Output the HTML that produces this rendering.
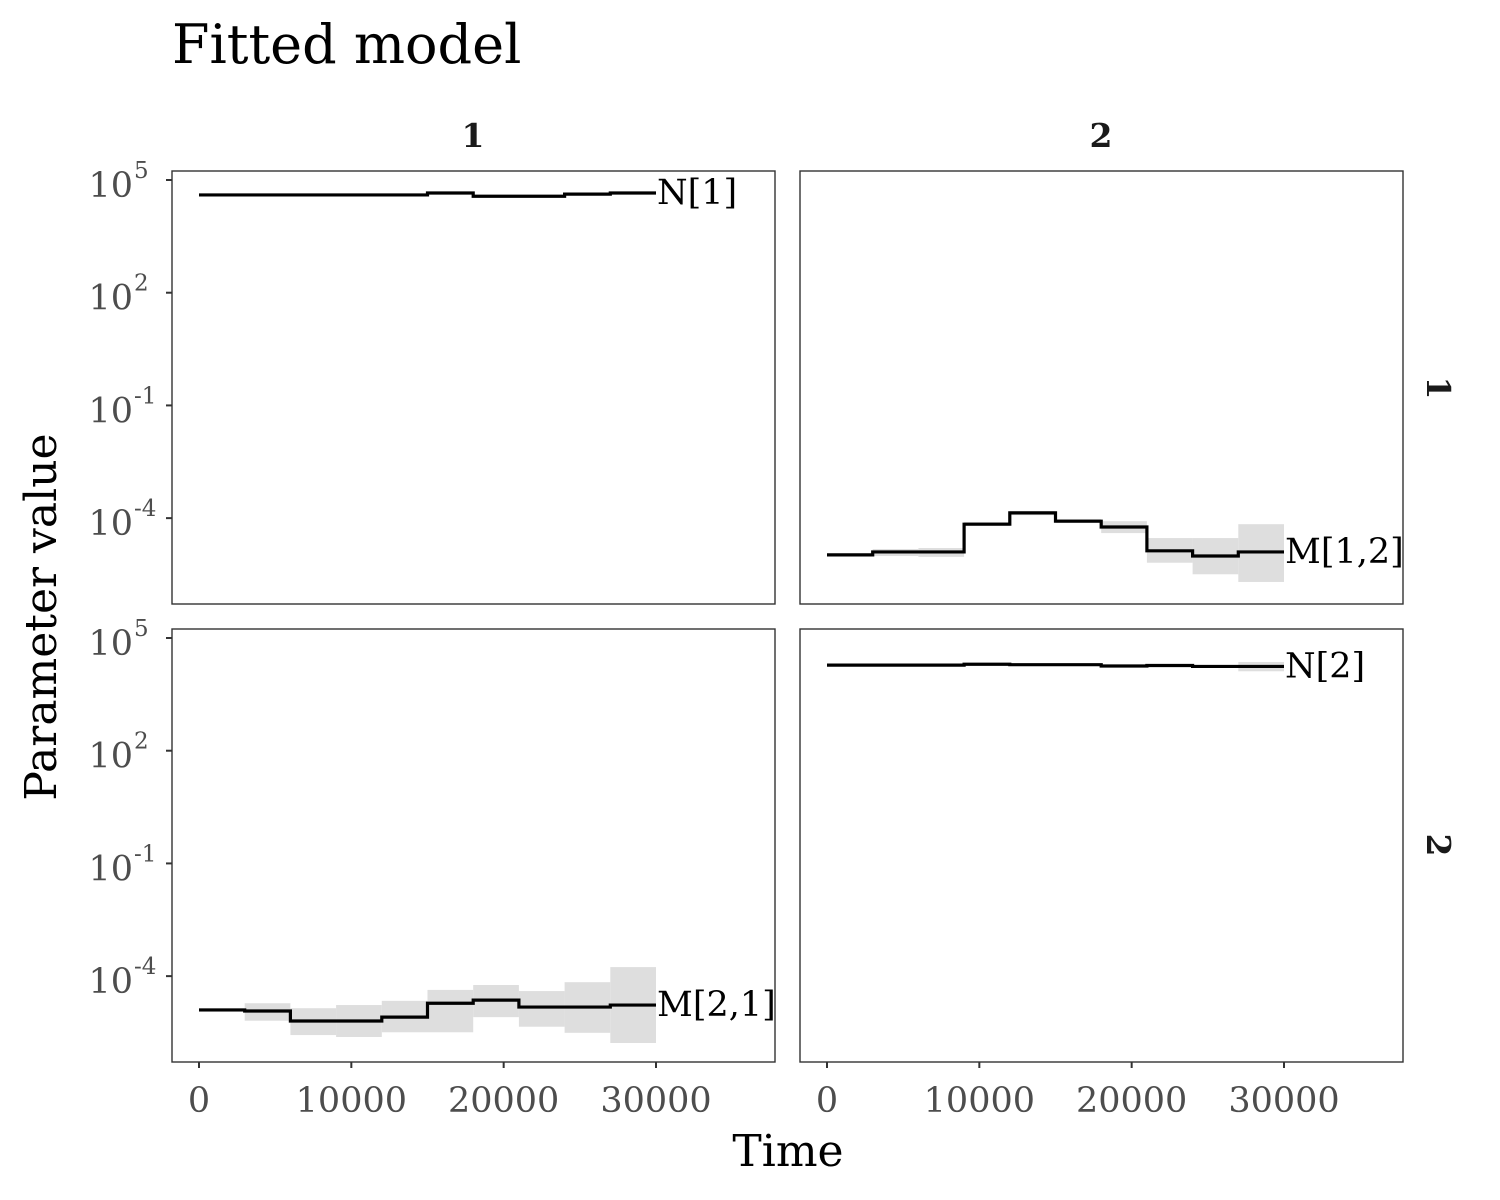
<!DOCTYPE html>
<html><head><meta charset="utf-8"><style>
body{margin:0;background:#fff}
svg{display:block;font-family:"DejaVu Serif","Liberation Serif",serif}
</style></head><body>
<svg id="chart" width="1500" height="1200" viewBox="0 0 1500 1200">
<text x="172" y="63" font-size="54" fill="#000">Fitted model</text>
<text x="788" y="1166" font-size="44" text-anchor="middle">Time</text>
<text transform="translate(56,617) rotate(-90)" font-size="44" text-anchor="middle">Parameter value</text>
<g id="plots"></g>
</svg>
<script>
const stepStarts = [0,3000,6000,9000,12000,15000,18000,21000,24000,27000];
const stepEnd = 30000;
const xTicks = [0,10000,20000,30000];
const yTickExps = [5,2,-1,-4];
const n1Line = [40000,40000,40000,40000,40000,45000,37000,37000,42000,45000];
const m12Line = [1.05e-5,1.26e-5,1.26e-5,6.9e-5,1.38e-4,8.3e-5,5.8e-5,1.35e-5,9.8e-6,1.26e-5];
const m12Hi = [1.15e-5,1.5e-5,1.6e-5,7.9e-5,1.55e-4,9.5e-5,8.3e-5,2.95e-5,2.95e-5,6.9e-5];
const m12Lo = [9.5e-6,9.8e-6,9.3e-6,6.2e-5,1.2e-4,7.4e-5,4.0e-5,6.5e-6,3.2e-6,2.0e-6];
const m21Line = [1.26e-5,1.18e-5,6.4e-6,6.4e-6,8.1e-6,1.9e-5,2.3e-5,1.5e-5,1.5e-5,1.7e-5];
const m21Hi = [1.4e-5,1.9e-5,1.4e-5,1.7e-5,2.2e-5,4.3e-5,5.8e-5,4.0e-5,6.9e-5,1.74e-4];
const m21Lo = [1.12e-5,6.5e-6,2.7e-6,2.4e-6,3.2e-6,3.2e-6,8.1e-6,4.5e-6,3.1e-6,1.66e-6];
const n2Line = [19000,19000,19000,20000,19500,19500,18000,18500,17500,17500];
const n2Hi = [20000,20000,20000,21000,20500,20500,19500,19500,19000,23000];
const n2Lo = [18000,18000,18000,19000,18500,18500,16500,17500,16000,13000];

const NS='http://www.w3.org/2000/svg';
const root=document.getElementById('plots');
function mk(tag,attrs,parent){const e=document.createElementNS(NS,tag);for(const k in attrs)e.setAttribute(k,attrs[k]);(parent||root).appendChild(e);return e;}
const PW=603, PH=433;
const panels=[
 {name:'panel-1-1',x:172,y:171,line:n1Line,label:'N[1]',left:true},
 {name:'panel-1-2',x:800,y:171,line:m12Line,hi:m12Hi,lo:m12Lo,label:'M[1,2]',left:false},
 {name:'panel-2-1',x:172,y:629,line:m21Line,hi:m21Hi,lo:m21Lo,label:'M[2,1]',left:true,bottom:true},
 {name:'panel-2-2',x:800,y:629,line:n2Line,hi:n2Hi,lo:n2Lo,label:'N[2]',left:false,bottom:true}
];
const DEC=37.57;
panels.forEach(p=>{
  const g=mk('g',{});
  
  
  const xs=v=>p.x+27+v*(457/30000);
  const ys=v=>p.y+9+(5-Math.log10(v))*DEC;
  if(p.hi){
    for(let i=0;i<stepStarts.length;i++){
      const x0=xs(stepStarts[i]),x1=xs(i+1<stepStarts.length?stepStarts[i+1]:stepEnd);
      const r=mk('rect',{x:x0,y:ys(p.hi[i]),width:x1-x0,height:ys(p.lo[i])-ys(p.hi[i]),fill:'#dedede'},g);
      
      
    }
  }
  let d='';
  for(let i=0;i<stepStarts.length;i++){
    const x0=xs(stepStarts[i]),x1=xs(i+1<stepStarts.length?stepStarts[i+1]:stepEnd),y=ys(p.line[i]);
    d+=(i===0?'M':'L')+x0+','+y+'L'+x1+','+y;
  }
  const path=mk('path',{d:d,fill:'none',stroke:'#000','stroke-width':3.2},g);
  
  
  const lab=mk('text',{x:xs(stepEnd)+1,y:ys(p.line[p.line.length-1])+11,'font-size':35},g);
  lab.textContent=p.label;
  
  
  const fr=mk('rect',{x:p.x,y:p.y,width:PW,height:PH,fill:'none',stroke:'#333','stroke-width':1.4},g);
  
  
  if(p.left){
    yTickExps.forEach(e=>{
      const y=ys(Math.pow(10,e));
      const t=mk('line',{x1:p.x-6,x2:p.x,y1:y,y2:y,stroke:'#333','stroke-width':2},g);
      
      
      const tx=mk('text',{x:p.x-39,y:y+17,'font-size':35,fill:'#4d4d4d','text-anchor':'end'},g);
      tx.textContent='10';
      
      
      const sp=mk('text',{x:p.x-38,y:y-2,'font-size':23,fill:'#4d4d4d'},g);
      sp.textContent=String(e);
      
      
    });
  }
  if(p.bottom){
    xTicks.forEach(v=>{
      const x=xs(v);
      const t=mk('line',{x1:x,x2:x,y1:p.y+PH,y2:p.y+PH+6,stroke:'#333','stroke-width':2},g);
      
      
      const tx=mk('text',{x:x,y:p.y+PH+50,'font-size':35,fill:'#4d4d4d','text-anchor':'middle'},g);
      tx.textContent=String(v);
      
      
    });
  }
});
[['1',473],['2',1101]].forEach(([s,x])=>{
  const t=mk('text',{x:x,y:147,'font-size':33,'font-weight':'bold','text-anchor':'middle',fill:'#1a1a1a'});
  t.textContent=s;
  
  
});
[['1',388],['2',845]].forEach(([s,y])=>{
  const t=mk('text',{transform:'translate(1427,'+y+') rotate(90)','font-size':33,'font-weight':'bold','text-anchor':'middle',fill:'#1a1a1a'});
  t.textContent=s;
  
  
});
</script>
</body></html>
